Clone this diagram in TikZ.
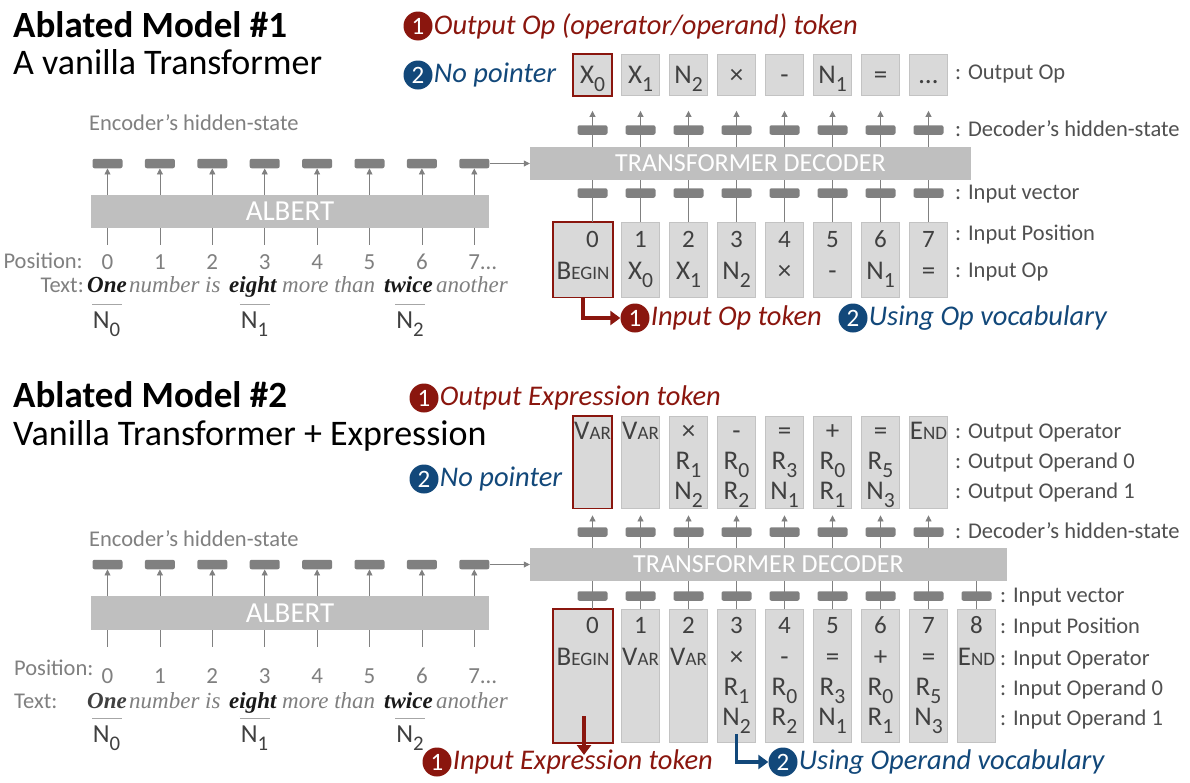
\documentclass[tikz,border=0pt]{standalone}
\usepackage{fontspec}
\setmainfont{Carlito}
\newfontfamily\wordfont{Liberation Serif}
\usetikzlibrary{arrows.meta,positioning}
\definecolor{opred}{RGB}{138,22,14}
\definecolor{opblue}{RGB}{18,72,122}
\definecolor{boxg}{RGB}{217,217,217}
\definecolor{boxd}{RGB}{195,195,195}
\definecolor{barg}{RGB}{191,191,191}
\definecolor{hidg}{RGB}{128,128,128}
\definecolor{lblg}{RGB}{80,80,80}
\definecolor{gtg}{RGB}{128,128,128}
\definecolor{celg}{RGB}{64,64,64}
\definecolor{wdg}{RGB}{127,127,127}
\definecolor{kwc}{RGB}{25,25,25}
\newcommand\fs[1]{\fontsize{#1}{#1}\selectfont}
\newcommand\ix[2]{#1\raisebox{-.32em}{\scalebox{.8}{#2}}}
\newcommand\scw[2]{#1{\fs{19}#2}}

\begin{document}
\begin{tikzpicture}[x=1pt,y=-1pt,>={Triangle[length=6pt,width=6pt]},
  title/.style={anchor=base west,font=\fs{37}\bfseries,inner sep=0pt},
  subt/.style={anchor=base west,font=\fs{36},inner sep=0pt},
  num/.style={circle,fill=#1,text=white,inner sep=0pt,minimum size=29pt,font=\fs{25}},
  note/.style={text=#1,font=\fs{28.5}\itshape,inner sep=1pt},
  lbl/.style={anchor=base west,text=lblg,font=\fs{22.5},inner sep=0pt},
  gtxt/.style={text=gtg,font=\fs{22.5},inner sep=0pt},
  cell/.style={anchor=base,text=celg,font=\fs{27},inner sep=0pt},
  posn/.style={anchor=base,text=gtg,font=\fs{23},inner sep=0pt},
  hid/.style={fill=hidg,rounded corners=2pt,minimum width=30pt,minimum height=9.5pt,inner sep=0pt},
  bar/.style={fill=barg,text=white,inner sep=0pt},
  tok/.style={fill=boxg,draw=boxd,line width=0.8pt,minimum width=38pt,inner sep=0pt},
  sel/.style={draw=opred,line width=1.8pt},
  wd/.style={anchor=base west,font=\fs{23}\wordfont\itshape,text=wdg,inner sep=0pt},
  kw/.style={anchor=base west,font=\fs{23}\wordfont\bfseries\itshape,text=kwc,inner sep=0pt},
  nlab/.style={anchor=base,text=celg,font=\fs{26},inner sep=0pt},
  gline/.style={draw=hidg,line width=0.8pt},
  dline/.style={draw=gray!70,line width=0.8pt,double=white,double distance=1.3pt},
  redarr/.style={draw=opred,line width=3.5pt,-{Triangle[length=10pt,width=14pt]}},
  bluearr/.style={draw=opblue,line width=3.5pt,-{Triangle[length=10pt,width=14pt]}}]
\fill[white] (0,0) rectangle (1190,782);
\useasboundingbox (0,0) rectangle (1190,782);

% ===== Ablated model 1 =====
\node[title] (t1) at (13,37) {Ablated Model \#1};
\node[subt] (s1) at (13,74) {A vanilla Transformer};
\node[num=opred] (m1a) at (418,26) {1};
\node[note=opred,right=0pt of m1a] (m1at) {Output Op (operator/operand) token};
\node[num=opblue] (m1b) at (418,75) {2};
\node[note=opblue,right=0pt of m1b] (m1bt) {No pointer};

% output tokens
\foreach \t [count=\i from 0] in {\ix{X}{0},\ix{X}{1},\ix{N}{2},×,-,\ix{N}{1},=,…}
  \node[tok,minimum height=41pt] (o1-\i) at ({592.5+48*\i},75) {};
\foreach \t [count=\i from 0] in {\ix{X}{0},\ix{X}{1},\ix{N}{2},×,-,\ix{N}{1},=,…}
  \node[cell] (oc1-\i) at ({592.5+48*\i},83) {\t};
\draw[sel] (o1-0.north west) rectangle (o1-0.south east);
\node[lbl] (l1a) at (955,79) {: Output Op};

% decoder
\node[bar,minimum width=441pt,minimum height=33pt,font=\fs{26}] (dec1) at (750.5,163.5) {TRANSFORMER\ DECODER};
\node[tok,minimum width=59pt,minimum height=75pt] (in1-0) at (583,259.5) {};
\foreach \i in {1,...,7}
  \node[tok,minimum height=75pt] (in1-\i) at ({592.5+48*\i},259.5) {};
\draw[sel] (in1-0.north west) rectangle (in1-0.south east);
\foreach \i in {0,...,7} {
  \node[hid] (dh1-\i) at ({592.5+48*\i},130) {};
  \node[hid] (iv1-\i) at ({592.5+48*\i},193) {};
  \draw[gline,->,shorten >=15pt] (dec1.north -| o1-\i) -- (o1-\i.south);
  \draw[gline] (dec1.south -| iv1-\i) -- (in1-\i.north -| iv1-\i);
  \node[posn,text=celg,font=\fs{25}] (ip1-\i) at ({592.5+48*\i},247) {\i};
}
\node[cell] (io1-0) at (583,279) {\scw{B}{EGIN}};
\foreach \t [count=\i from 1] in {\ix{X}{0},\ix{X}{1},\ix{N}{2},×,-,\ix{N}{1},=}
  \node[cell] (io1-\i) at ({592.5+48*\i},279) {\t};
\node[lbl] (l1b) at (955,136) {: Decoder’s hidden-state};
\node[lbl] (l1c) at (955,199) {: Input vector};
\node[lbl] (l1d) at (955,240) {: Input Position};
\node[lbl] (l1e) at (955,277) {: Input Op};

\node[num=opred] (m1c) at (635,318) {1};
\node[note=opred,right=0pt of m1c] (m1ct) {Input Op token};
\node[num=opblue] (m1d) at (853,318) {2};
\node[note=opblue,right=0pt of m1d] (m1dt) {Using Op vocabulary};
\draw[redarr] (in1-0.south) |- (m1c.west);

% encoder
\node[gtxt,anchor=base west] (enc1) at (89,130) {Encoder’s hidden-state};
\node[bar,minimum width=398pt,minimum height=33pt,font=\fs{29}] (alb1) at (290,211.5) {ALBERT};
\foreach \i in {0,...,7} {
  \node[hid] (eh1-\i) at ({107.5+52.4*\i},163.5) {};
  \node[posn] (ep1-\i) at ({107.5+52.4*\i},269) {\i};
  \draw[gline,->] (alb1.north -| eh1-\i) -- (eh1-\i.south);
  \draw[gline] (alb1.south -| eh1-\i) -- ++(0,17);
}
\node[posn,anchor=base west] (dots1) at (ep1-7.base east) {…};
\draw[gline,->] (eh1-7.east) -- (dec1.west |- eh1-7);
\node[gtxt,anchor=base east] (pl1) at (83,268) {Position:};
\node[gtxt,anchor=base east] (tl1) at (84,292) {Text:};
\node[kw] (w1a) at (87,292) {One};
\node[wd] (w1b) at (129,292) {number is};
\node[kw] (w1c) at (229,292) {eight};
\node[wd] (w1d) at (282,292) {more than};
\node[kw] (w1e) at (384,292) {twice};
\node[wd] (w1f) at (436,292) {another};
\foreach \x/\k in {106.5/0,254.5/1,410/2} {
  \node[nlab] (n1-\k) at (\x,328) {\ix{N}{\k}};
  \draw[dline] ([xshift=-15pt,yshift=8pt]n1-\k.north) -- ([xshift=15pt,yshift=8pt]n1-\k.north);
}

% ===== Ablated model 2 =====
\node[title] (t2) at (13,407) {Ablated Model \#2};
\node[subt] (s2) at (13,445) {Vanilla Transformer + Expression};
\node[num=opred] (m2a) at (424,398) {1};
\node[note=opred,right=0pt of m2a] (m2at) {Output Expression token};
\node[num=opblue] (m2b) at (424,479) {2};
\node[note=opblue,right=0pt of m2b] (m2bt) {No pointer};

% output expressions
\foreach \i in {0,...,7}
  \node[tok,minimum height=92pt] (o2-\i) at ({592.5+48*\i},462) {};
\draw[sel] (o2-0.north west) rectangle (o2-0.south east);
\foreach \t [count=\i from 0] in {\scw{V}{AR},\scw{V}{AR},×,-,=,+,=,\scw{E}{ND}}
  \node[cell] (oo2-\i) at ({592.5+48*\i},439) {\t};
\foreach \a/\b [count=\i from 2] in {\ix{R}{1}/\ix{N}{2},\ix{R}{0}/\ix{R}{2},\ix{R}{3}/\ix{N}{1},\ix{R}{0}/\ix{R}{1},\ix{R}{5}/\ix{N}{3}} {
  \node[cell] (oa2-\i) at ({592.5+48*\i},469) {\a};
  \node[cell] (ob2-\i) at ({592.5+48*\i},499) {\b};
}
\node[lbl] (l2a) at (955,438) {: Output Operator};
\node[lbl] (l2b) at (955,468) {: Output Operand 0};
\node[lbl] (l2c) at (955,498) {: Output Operand 1};

% decoder
\node[bar,minimum width=477pt,minimum height=33pt,font=\fs{26}] (dec2) at (768.5,564.5) {TRANSFORMER\ DECODER};
\node[tok,minimum width=59pt,minimum height=133pt] (in2-0) at (583,676) {};
\foreach \i in {1,...,8}
  \node[tok,minimum height=133pt] (in2-\i) at ({592.5+48*\i},676) {};
\draw[sel] (in2-0.north west) rectangle (in2-0.south east);
\foreach \i in {0,...,8} {
  \node[hid] (iv2-\i) at ({592.5+48*\i},596) {};
  \draw[gline] (dec2.south -| iv2-\i) -- (in2-\i.north -| iv2-\i);
  \node[posn,text=celg,font=\fs{25}] (ip2-\i) at ({592.5+48*\i},633) {\i};
}
\foreach \i in {0,...,7} {
  \node[hid] (dh2-\i) at ({592.5+48*\i},532) {};
  \draw[gline,->,shorten >=7pt] (dec2.north -| o2-\i) -- (o2-\i.south);
}
\node[cell] (io2-0) at (583,665) {\scw{B}{EGIN}};
\foreach \t [count=\i from 1] in {\scw{V}{AR},\scw{V}{AR},×,-,=,+,=,\scw{E}{ND}}
  \node[cell] (io2-\i) at ({592.5+48*\i},665) {\t};
\foreach \a/\b [count=\i from 3] in {\ix{R}{1}/\ix{N}{2},\ix{R}{0}/\ix{R}{2},\ix{R}{3}/\ix{N}{1},\ix{R}{0}/\ix{R}{1},\ix{R}{5}/\ix{N}{3}} {
  \node[cell] (ia2-\i) at ({592.5+48*\i},695) {\a};
  \node[cell] (ib2-\i) at ({592.5+48*\i},725) {\b};
}
\node[lbl] (l2d) at (955,538) {: Decoder’s hidden-state};
\node[lbl] (l2e) at (1000,602) {: Input vector};
\node[lbl] (l2f) at (1000,633) {: Input Position};
\node[lbl] (l2g) at (1000,665) {: Input Operator};
\node[lbl] (l2h) at (1000,695) {: Input Operand 0};
\node[lbl] (l2i) at (1000,725) {: Input Operand 1};

\node[num=opred] (m2c) at (437,762) {1};
\node[note=opred,right=0pt of m2c] (m2ct) {Input Expression token};
\node[num=opblue] (m2d) at (783,762) {2};
\node[note=opblue,right=0pt of m2d] (m2dt) {Using Operand vocabulary};
\coordinate (r2a) at (584,716);
\coordinate (r2b) at (584,755);
\draw[redarr] (r2a) -- (r2b);
\draw[bluearr] (ib2-3.south) |- (m2d.west);

% encoder
\node[gtxt,anchor=base west] (enc2) at (89,546) {Encoder’s hidden-state};
\node[bar,minimum width=398pt,minimum height=34pt,font=\fs{29}] (alb2) at (290,613) {ALBERT};
\foreach \i in {0,...,7} {
  \node[hid] (eh2-\i) at ({107.5+52.4*\i},564.5) {};
  \node[posn] (ep2-\i) at ({107.5+52.4*\i},683) {\i};
  \draw[gline,->] (alb2.north -| eh2-\i) -- (eh2-\i.south);
  \draw[gline] (alb2.south -| eh2-\i) -- ++(0,17);
}
\node[posn,anchor=base west] (dots2) at (ep2-7.base east) {…};
\draw[gline,->] (eh2-7.east) -- (dec2.west |- eh2-7);
\node[gtxt,anchor=base west] (pl2) at (14,675) {Position:};
\node[gtxt,anchor=base west] (tl2) at (14,708) {Text:};
\node[kw,text=celg] (w2a) at (87,708) {One};
\node[wd] (w2b) at (129,708) {number is};
\node[kw] (w2c) at (229,708) {eight};
\node[wd] (w2d) at (282,708) {more than};
\node[kw] (w2e) at (384,708) {twice};
\node[wd] (w2f) at (436,708) {another};
\foreach \x/\k in {106.5/0,254.5/1,410/2} {
  \node[nlab] (n2-\k) at (\x,742) {\ix{N}{\k}};
  \draw[dline] ([xshift=-15pt,yshift=8pt]n2-\k.north) -- ([xshift=15pt,yshift=8pt]n2-\k.north);
}
\end{tikzpicture}
\end{document}
